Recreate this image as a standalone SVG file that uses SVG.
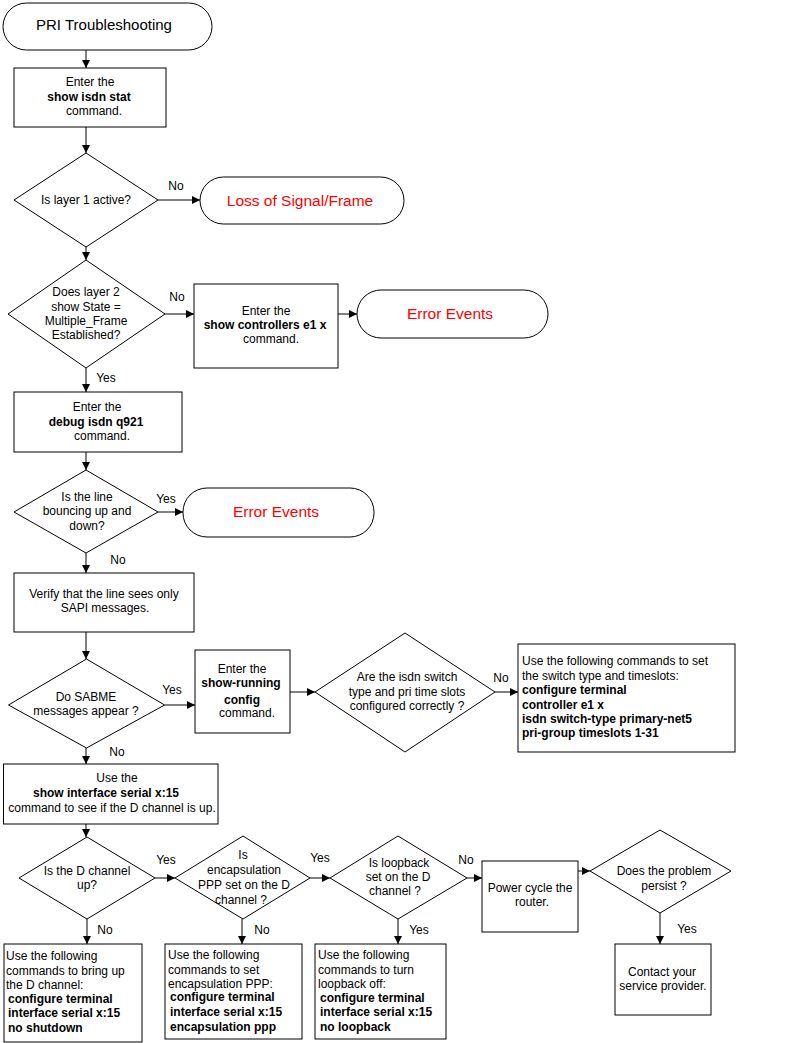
<svg xmlns="http://www.w3.org/2000/svg" width="789" height="1043" viewBox="0 0 789 1043">
<style>
.s{fill:#fff;stroke:#000;stroke-width:1}
text{font-family:"Liberation Sans",Arial,sans-serif;font-size:12px;fill:#000}
.m{text-anchor:middle}
.b{font-weight:bold}
.r{fill:#f00;font-size:15.5px;text-anchor:middle}
.t{font-size:15px;text-anchor:middle}
.c line{stroke:#000;stroke-width:1;marker-end:url(#a)}
</style>
<defs>
<marker id="a" markerWidth="8" markerHeight="8" refX="8" refY="4" orient="auto" markerUnits="userSpaceOnUse">
<path d="M0,0 L8,4 L0,8 z" fill="#000"/>
</marker>
</defs>
<rect width="789" height="1043" fill="#fff"/>
<g id="n-start"><rect class="s" x="3" y="3" width="209" height="47" rx="23.5"/><text class="t" x="104" y="30">PRI Troubleshooting</text></g>
<g id="n-box1"><rect class="s" x="14" y="68" width="152" height="59"/><text class="m" x="90" y="86">Enter the</text><text class="m b" x="89" y="101">show isdn stat</text><text class="m" x="94" y="115">command.</text></g>
<g id="n-d1"><polygon class="s" points="86,153 158,200 86,247 14,200"/><text class="m" x="86" y="204">Is layer 1 active?</text></g>
<g id="n-loss"><rect class="s" x="200" y="177" width="204" height="47" rx="23.5"/><text class="r" x="300" y="206">Loss of Signal/Frame</text></g>
<g id="n-d2"><polygon class="s" points="86,260 165,314 86,368 8,314"/><text class="m" x="86" y="296">Does layer 2</text><text class="m" x="86" y="311">show State =</text><text class="m" x="86" y="325">Multiple_Frame</text><text class="m" x="86" y="339">Established?</text></g>
<g id="n-box2"><rect class="s" x="194" y="284" width="144" height="84"/><text class="m" x="266" y="315">Enter the</text><text class="m b" x="265" y="329">show controllers e1 x</text><text class="m" x="271" y="343">command.</text></g>
<g id="n-err1"><rect class="s" x="357" y="290" width="191" height="48" rx="24"/><text class="r" x="450" y="319">Error Events</text></g>
<g id="n-box3"><rect class="s" x="14" y="392" width="168" height="60"/><text class="m" x="97" y="411">Enter the</text><text class="m b" x="96" y="426">debug isdn q921</text><text class="m" x="102" y="440">command.</text></g>
<g id="n-d3"><polygon class="s" points="86,470 158,512 86,553 14,512"/><text class="m" x="87" y="501">Is the line</text><text class="m" x="87" y="515">bouncing up and</text><text class="m" x="87" y="530">down?</text></g>
<g id="n-err2"><rect class="s" x="183" y="488" width="191" height="49" rx="24"/><text class="r" x="276" y="517">Error Events</text></g>
<g id="n-box4"><rect class="s" x="14" y="573" width="180" height="59"/><text class="m" x="104" y="598">Verify that the line sees only</text><text class="m" x="105" y="612">SAPI messages.</text></g>
<g id="n-d4"><polygon class="s" points="86.5,659 164.6,705 86.5,748 8.5,705"/><text class="m" x="86" y="701">Do SABME</text><text class="m" x="86" y="715">messages appear ?</text></g>
<g id="n-box5"><rect class="s" x="195" y="650" width="95" height="83"/><text class="m" x="242" y="673">Enter the</text><text class="m b" x="241" y="687">show-running</text><text class="m b" x="242" y="704">config</text><text class="m" x="247" y="717">command.</text></g>
<g id="n-d5"><polygon class="s" points="405,633 495,692 405,752 315,692"/><text class="m" x="407" y="681">Are the isdn switch</text><text class="m" x="407" y="696">type and pri time slots</text><text class="m" x="407" y="710">configured correctly ?</text></g>
<g id="n-box6"><rect class="s" x="518" y="644" width="217" height="108"/><text x="522" y="665">Use the following commands to set</text><text x="522" y="680">the switch type and timeslots:</text><text class="b" x="522" y="694">configure terminal</text><text class="b" x="522" y="709">controller e1 x</text><text class="b" x="522" y="723">isdn switch-type primary-net5</text><text class="b" x="522" y="737">pri-group timeslots 1-31</text></g>
<g id="n-box7"><rect class="s" x="3.5" y="764" width="214.5" height="60"/><text class="m" x="117" y="782">Use the</text><text class="m b" x="106" y="797">show interface serial x:15</text><text class="m" x="112" y="812">command to see if the D channel is up.</text></g>
<g id="n-d6"><polygon class="s" points="87,837 155,878 87,919 19,878"/><text class="m" x="87" y="875">Is the D channel</text><text class="m" x="87" y="889">up?</text></g>
<g id="n-d7"><polygon class="s" points="243,836 310,878 243,919 175,878"/><text class="m" x="243" y="859">Is</text><text class="m" x="244" y="874">encapsulation</text><text class="m" x="244" y="889">PPP set on the D</text><text class="m" x="241" y="904">channel ?</text></g>
<g id="n-d8"><polygon class="s" points="398,836 467,878 398,919 330,878"/><text class="m" x="399" y="867">Is loopback</text><text class="m" x="398" y="881">set on the D</text><text class="m" x="395" y="895">channel ?</text></g>
<g id="n-box8"><rect class="s" x="482" y="861" width="96" height="71"/><text class="m" x="530" y="892">Power cycle the</text><text class="m" x="532" y="906">router.</text></g>
<g id="n-d9"><polygon class="s" points="660,830 731,871 660,913 590,871"/><text class="m" x="664" y="875">Does the problem</text><text class="m" x="664" y="890">persist ?</text></g>
<g id="n-box9"><rect class="s" x="615" y="944" width="96" height="71"/><text class="m" x="662" y="976">Contact your</text><text class="m" x="663" y="990">service provider.</text></g>
<g id="n-boxA"><rect class="s" x="4" y="944" width="138" height="98"/><text x="6" y="960">Use the following</text><text x="6" y="975">commands to bring up</text><text x="6" y="989">the D channel:</text><text class="b" x="8" y="1003">configure terminal</text><text class="b" x="8" y="1017">interface serial x:15</text><text class="b" x="8" y="1032">no shutdown</text></g>
<g id="n-boxB"><rect class="s" x="165" y="944" width="137" height="95"/><text x="168" y="959">Use the following</text><text x="168" y="974">commands to set</text><text x="168" y="988">encapsulation PPP:</text><text class="b" x="170" y="1001">configure terminal</text><text class="b" x="170" y="1016">interface serial x:15</text><text class="b" x="170" y="1031">encapsulation ppp</text></g>
<g id="n-boxC"><rect class="s" x="315" y="944" width="131" height="95"/><text x="318" y="959">Use the following</text><text x="318" y="974">commands to turn</text><text x="318" y="988">loopback off:</text><text class="b" x="320" y="1002">configure terminal</text><text class="b" x="320" y="1016">interface serial x:15</text><text class="b" x="320" y="1031">no loopback</text></g>
<g id="connectors" class="c">
<line x1="86" y1="50" x2="86" y2="68"/>
<line x1="86" y1="127" x2="86" y2="153"/>
<line x1="158" y1="200" x2="200" y2="200"/>
<line x1="86" y1="247" x2="86" y2="260"/>
<line x1="165" y1="314" x2="194" y2="314"/>
<line x1="338" y1="314" x2="357" y2="314"/>
<line x1="86" y1="368" x2="86" y2="392"/>
<line x1="86" y1="452" x2="86" y2="470"/>
<line x1="158" y1="512" x2="183" y2="512"/>
<line x1="86" y1="553" x2="86" y2="573"/>
<line x1="86" y1="632" x2="86" y2="659"/>
<line x1="164.6" y1="705" x2="195" y2="705"/>
<line x1="290" y1="692" x2="315" y2="692"/>
<line x1="495" y1="692" x2="518" y2="692"/>
<line x1="86" y1="748" x2="86" y2="764"/>
<line x1="86" y1="824" x2="86" y2="837"/>
<line x1="155" y1="878" x2="175" y2="878"/>
<line x1="310" y1="878" x2="330" y2="878"/>
<line x1="467" y1="878" x2="482" y2="878"/>
<line x1="578" y1="871" x2="590" y2="871"/>
<line x1="87" y1="919" x2="87" y2="944"/>
<line x1="242" y1="919" x2="242" y2="944"/>
<line x1="398" y1="919" x2="398" y2="944"/>
<line x1="660" y1="913" x2="660" y2="944"/>
<text class="m" x="176" y="190">No</text>
<text class="m" x="177" y="301">No</text>
<text class="m" x="106" y="382">Yes</text>
<text class="m" x="166" y="503">Yes</text>
<text class="m" x="118" y="564">No</text>
<text class="m" x="172" y="694">Yes</text>
<text class="m" x="501" y="682">No</text>
<text class="m" x="117" y="756">No</text>
<text class="m" x="166" y="864">Yes</text>
<text class="m" x="320" y="862">Yes</text>
<text class="m" x="466" y="864">No</text>
<text class="m" x="105" y="934">No</text>
<text class="m" x="262" y="934">No</text>
<text class="m" x="419" y="934">Yes</text>
<text class="m" x="687" y="933">Yes</text>
</g>
</svg>
